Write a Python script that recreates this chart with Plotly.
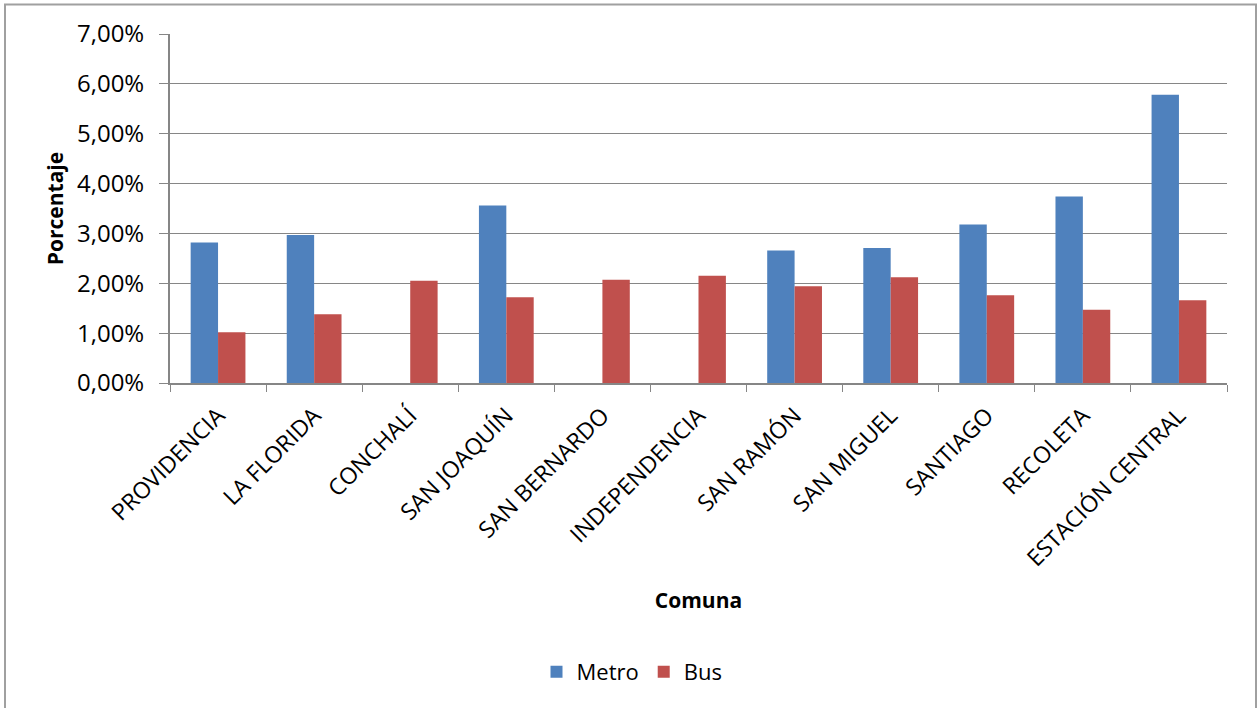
import plotly.graph_objects as go

# Comunas shown on the x axis
comunas = [
    "PROVIDENCIA", "LA FLORIDA", "CONCHALÍ", "SAN JOAQUÍN", "SAN BERNARDO",
    "INDEPENDENCIA", "SAN RAMÓN", "SAN MIGUEL", "SANTIAGO", "RECOLETA",
    "ESTACIÓN CENTRAL",
]

# Share of trips per comuna (fractions; None where there is no Metro value)
metro = [0.0282, 0.0297, None, 0.0356, None, None, 0.0266, 0.0271, 0.0318, 0.0374, 0.0578]
bus = [0.0102, 0.0138, 0.0205, 0.0172, 0.0207, 0.0215, 0.0194, 0.0212, 0.0176, 0.0147, 0.0166]

y_ticks = [0, 0.01, 0.02, 0.03, 0.04, 0.05, 0.06, 0.07]

FONT = "Open Sans"
GRID = "#868686"

fig = go.Figure()
fig.add_trace(go.Bar(name="Metro", x=comunas, y=metro, marker=dict(color="#4F81BD", line=dict(width=0))))
fig.add_trace(go.Bar(name="Bus", x=comunas, y=bus, marker=dict(color="#C0504D", line=dict(width=0))))

# Plot area in pixels (margins define it); used to place the outer frame and legend
W, H = 1259, 708
ml, mr, mt, mb = 170, 32, 34, 325
pw, ph = W - ml - mr, H - mt - mb


def px_x(x):
    return (x - ml) / pw


def px_y(y):
    return (H - mb - y) / ph


fig.add_shape(
    type="rect", xref="paper", yref="paper",
    x0=px_x(5), x1=px_x(1256), y0=px_y(730), y1=px_y(4.5),
    line=dict(color="#a0a0a0", width=2), fillcolor="rgba(0,0,0,0)", layer="below",
)

fig.update_layout(
    width=W, height=H,
    margin=dict(l=ml, r=mr, t=mt, b=mb, pad=0),
    paper_bgcolor="white", plot_bgcolor="white",
    barmode="group", bargap=0.43, bargroupgap=0,
    separators=",.",
    font=dict(family=FONT, size=22, color="black"),
    showlegend=True,
    legend=dict(
        orientation="h", x=px_x(632), xanchor="center", y=px_y(672), yanchor="middle",
        font=dict(family=FONT, size=22, color="black"),
        itemwidth=30, traceorder="normal",
    ),
    xaxis=dict(
        type="category",
        tickangle=-45,
        tickson="boundaries",
        ticks="outside", ticklen=7, tickcolor=GRID, tickwidth=1,
        showline=True, linecolor=GRID, linewidth=2,
        showgrid=False,
        ticklabelstandoff=8,
        tickfont=dict(family=FONT, size=23),
        title=dict(text="<b>Comuna</b>", font=dict(family=FONT, size=21), standoff=22),
    ),
    yaxis=dict(
        range=[0, 0.07],
        tickvals=y_ticks,
        tickformat=".2%",
        ticks="outside", ticklen=9, tickcolor=GRID, tickwidth=1,
        showline=True, linecolor=GRID, linewidth=2,
        showgrid=True, gridcolor=GRID, gridwidth=1,
        zeroline=False,
        ticklabelstandoff=10,
        tickfont=dict(family=FONT, size=24),
        title=dict(text="<b>Porcentaje</b>", font=dict(family=FONT, size=21), standoff=8),
    ),
)

fig.write_html("out.html")
